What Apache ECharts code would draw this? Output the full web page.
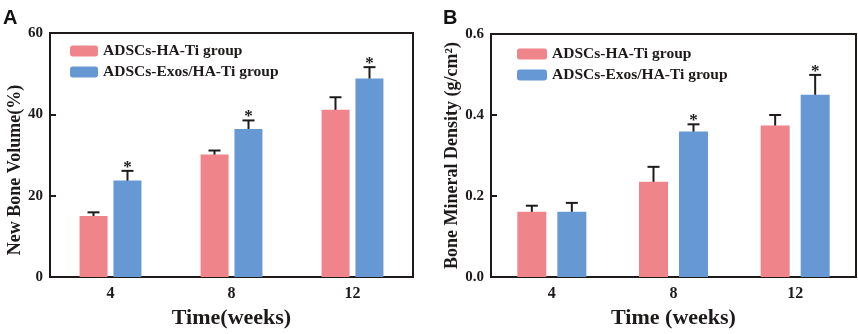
<!DOCTYPE html>
<html>
<head>
<meta charset="utf-8">
<script src="https://cdn.jsdelivr.net/npm/echarts@6/dist/echarts.min.js"></script>
<style>
  html, body { margin: 0; padding: 0; background: #fff; }
  #chart { width: 858px; height: 334px; }
</style>
</head>
<body>
<div id="chart"></div>
<script>
// weeks
const categories = ['4', '8', '12']

// panel A: new bone volume (%)
const volHA = [15.0, 30.1, 41.1]
const volHAErr = [0.9, 1.0, 3.1]
const volExo = [23.7, 36.4, 48.8]
const volExoErr = [2.4, 2.1, 2.8]
const volSig = [true, true, true]

// panel B: bone mineral density (g/cm2)
const bmdHA = [0.161, 0.235, 0.374]
const bmdHAErr = [0.015, 0.037, 0.026]
const bmdExo = [0.161, 0.359, 0.450]
const bmdExoErr = [0.022, 0.018, 0.049]
const bmdSig = [false, true, true]

const nameHA = 'ADSCs-HA-Ti group'
const nameExo = 'ADSCs-Exos/HA-Ti group'
const pink = '#EF848A'
const blue = '#6699D4'
const ink = '#1e1a1a'
const serif = '"Liberation Serif", "DejaVu Serif", serif'
const sans = '"Liberation Sans", Arial, sans-serif'

const chart = echarts.init(document.getElementById('chart'))

// error bar (upper whisker + cap) with optional asterisk
const errSeries = (name, gi, vals, errs, sig, offset) => ({
  name,
  type: 'custom',
  xAxisIndex: gi,
  yAxisIndex: gi,
  z: 5,
  data: vals.map((v, i) => [i, v, errs[i], sig ? (sig[i] ? 1 : 0) : 0]),
  renderItem: (params, api) => {
    const base = api.coord([api.value(0), api.value(1)])
    const top = api.coord([api.value(0), api.value(1) + api.value(2)])
    const x = base[0] + offset
    const children = [
      { type: 'line', shape: { x1: x, y1: base[1], x2: x, y2: top[1] }, style: { stroke: ink, lineWidth: 2 } },
      { type: 'line', shape: { x1: x - 6, y1: top[1], x2: x + 6, y2: top[1] }, style: { stroke: ink, lineWidth: 2 } }
    ]
    if (api.value(3)) {
      children.push({
        type: 'text',
        style: { text: '*', x: x, y: top[1] + 5, textAlign: 'center', textVerticalAlign: 'bottom', fill: ink, font: 'bold 17px ' + serif }
      })
    }
    return { type: 'group', children }
  }
})

const axisText = { color: ink, fontFamily: serif, fontWeight: 'bold', fontSize: 15 }

const makeX = (gi) => ({
  type: 'category',
  gridIndex: gi,
  data: categories,
  axisLine: { lineStyle: { color: ink, width: 2 } },
  axisTick: { show: false },
  axisLabel: { ...axisText, fontSize: 16, margin: 9 },
  name: gi === 0 ? 'Time(weeks)' : 'Time (weeks)',
  nameLocation: 'middle',
  nameGap: 30,
  nameTextStyle: { color: ink, fontFamily: serif, fontWeight: 'bold', fontSize: 22 }
})

const legendText = { color: ink, fontFamily: serif, fontWeight: 'bold', fontSize: 15.5 }

const option = {
  animation: false,
  title: [
    { text: 'A', left: 3, top: 8, padding: 0, textStyle: { fontFamily: sans, fontWeight: 'bold', fontSize: 20, color: '#111' } },
    { text: 'B', left: 443, top: 8, padding: 0, textStyle: { fontFamily: sans, fontWeight: 'bold', fontSize: 20, color: '#111' } }
  ],
  legend: [
    {
      data: [nameHA, nameExo], orient: 'vertical', left: 70, top: 43, padding: 0,
      itemWidth: 28, itemHeight: 11, itemGap: 5, selectedMode: false,
      textStyle: legendText
    },
    {
      data: [nameHA, nameExo], orient: 'vertical', left: 517, top: 46, padding: 0,
      itemWidth: 30, itemHeight: 11, itemGap: 5, selectedMode: false,
      textStyle: legendText
    }
  ],
  grid: [
    { left: 50, top: 33, width: 363, height: 250, show: true, borderColor: ink, borderWidth: 2 },
    { left: 491, top: 34, width: 365, height: 251, show: true, borderColor: ink, borderWidth: 2 }
  ],
  xAxis: [makeX(0), makeX(1)],
  yAxis: [
    {
      type: 'value', gridIndex: 0, min: 0, max: 60, interval: 20,
      splitLine: { show: false },
      axisLine: { show: true, lineStyle: { color: ink, width: 2 } },
      axisTick: { show: true, inside: true, length: 6, lineStyle: { color: ink, width: 2 } },
      axisLabel: { ...axisText, margin: 7 },
      name: 'New Bone Volume(%)', nameLocation: 'middle', nameGap: 23,
      nameTextStyle: { color: ink, fontFamily: serif, fontWeight: 'bold', fontSize: 18, padding: [0, 30, 0, 0] }
    },
    {
      type: 'value', gridIndex: 1, min: 0, max: 0.6, interval: 0.2,
      splitLine: { show: false },
      axisLine: { show: true, lineStyle: { color: ink, width: 2 } },
      axisTick: { show: true, inside: true, length: 6, lineStyle: { color: ink, width: 2 } },
      axisLabel: { ...axisText, margin: 7, formatter: v => v.toFixed(1) },
      name: 'Bone Mineral Density (g/cm²)', nameLocation: 'middle', nameGap: 30,
      nameTextStyle: { color: ink, fontFamily: serif, fontWeight: 'bold', fontSize: 18 }
    }
  ],
  series: [
    { name: nameHA, type: 'bar', xAxisIndex: 0, yAxisIndex: 0, data: volHA, barWidth: 28, barGap: '21%', itemStyle: { color: pink } },
    { name: nameExo, type: 'bar', xAxisIndex: 0, yAxisIndex: 0, data: volExo, barWidth: 28, barGap: '21%', itemStyle: { color: blue } },
    { name: nameHA, type: 'bar', xAxisIndex: 1, yAxisIndex: 1, data: bmdHA, barWidth: 29, barGap: '38%', itemStyle: { color: pink } },
    { name: nameExo, type: 'bar', xAxisIndex: 1, yAxisIndex: 1, data: bmdExo, barWidth: 29, barGap: '38%', itemStyle: { color: blue } },
    errSeries('errA1', 0, volHA, volHAErr, null, -17),
    errSeries('errA2', 0, volExo, volExoErr, volSig, 17),
    errSeries('errB1', 1, bmdHA, bmdHAErr, null, -20),
    errSeries('errB2', 1, bmdExo, bmdExoErr, bmdSig, 20)
  ]
}

chart.setOption(option)
</script>
</body>
</html>
